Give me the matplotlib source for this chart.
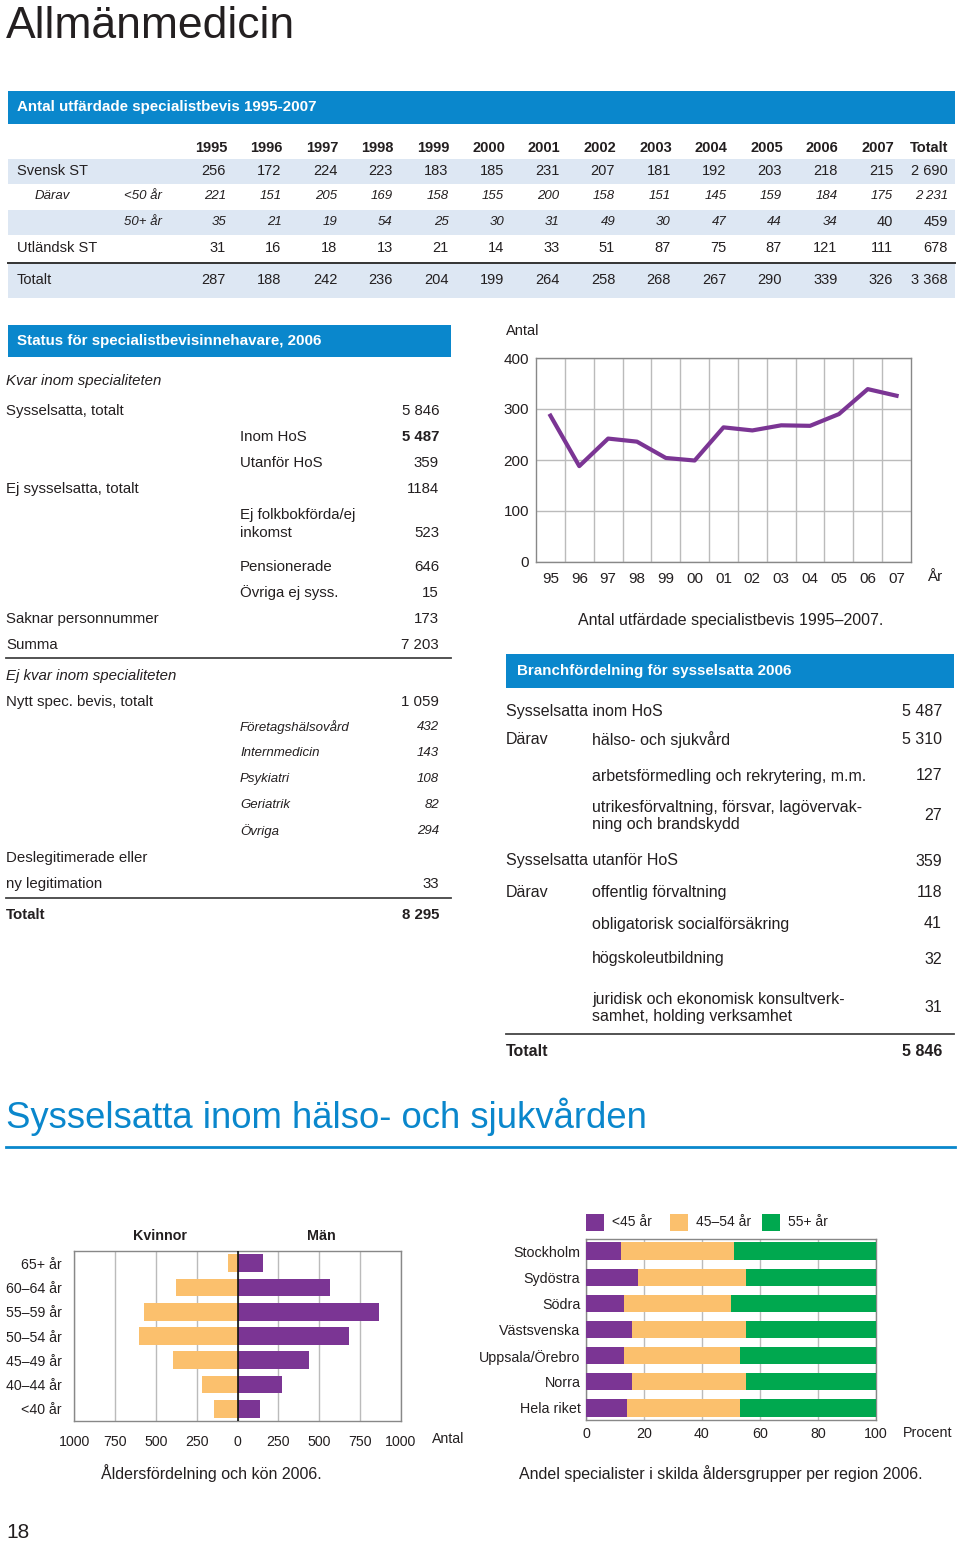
import matplotlib
matplotlib.use("Agg")
import matplotlib.pyplot as plt
from matplotlib.patches import Rectangle
from matplotlib.lines import Line2D
import numpy as np

plt.rcParams['font.family'] = ['Liberation Sans', 'DejaVu Sans']

# ---------------- data ----------------
years = ['1995', '1996', '1997', '1998', '1999', '2000', '2001',
         '2002', '2003', '2004', '2005', '2006', '2007']
years_short = ['95', '96', '97', '98', '99', '00', '01', '02', '03', '04', '05', '06', '07']
svensk_st = [256, 172, 224, 223, 183, 185, 231, 207, 181, 192, 203, 218, 215]
under50 = [221, 151, 205, 169, 158, 155, 200, 158, 151, 145, 159, 184, 175]
over50 = [35, 21, 19, 54, 25, 30, 31, 49, 30, 47, 44, 34, 40]
utlandsk_st = [31, 16, 18, 13, 21, 14, 33, 51, 87, 75, 87, 121, 111]
totalt = [287, 188, 242, 236, 204, 199, 264, 258, 268, 267, 290, 339, 326]

age_groups = ['65+ år', '60–64 år', '55–59 år', '50–54 år', '45–49 år', '40–44 år', '<40 år']
kvinnor = [60, 375, 570, 600, 395, 215, 145]
man = [155, 565, 865, 685, 440, 272, 135]

regions = ['Stockholm', 'Sydöstra', 'Södra', 'Västsvenska', 'Uppsala/Örebro', 'Norra', 'Hela riket']
under45 = [12, 18, 13, 16, 13, 16, 14]
age45_54 = [39, 37, 37, 39, 40, 39, 39]
age55p = [49, 45, 50, 45, 47, 45, 47]

bransch_hos = [('hälso- och sjukvård', '5 310'),
               ('arbetsförmedling och rekrytering, m.m.', '127'),
               ('utrikesförvaltning, försvar, lagövervak-\nning och brandskydd', '27')]
bransch_utanfor = [('offentlig förvaltning', '118'),
                   ('obligatorisk socialförsäkring', '41'),
                   ('högskoleutbildning', '32'),
                   ('juridisk och ekonomisk konsultverk-\nsamhet, holding verksamhet', '31')]

# ---------------- helpers ----------------
W, H = 960, 1544
fig = plt.figure(figsize=(W / 100, H / 100), dpi=100)
TXT = '#231f20'
BLUE = '#0a87cc'
LIGHT = '#dde7f3'
PURPLE = '#7b3594'
ORANGE = '#fbc06d'
GREEN = '#00a84f'


def T(x, y, s, size=10.8, ha='left', va='center', **kw):
    kw.setdefault('color', TXT)
    fig.text(x / W, 1 - y / H, s, fontsize=size, ha=ha, va=va, **kw)


def R(x0, y0, x1, y1, color):
    fig.add_artist(Rectangle((x0 / W, 1 - y1 / H), (x1 - x0) / W, (y1 - y0) / H,
                             transform=fig.transFigure, facecolor=color,
                             edgecolor='none', zorder=0))


def L(x0, x1, y, color='#444444', lw=1.3):
    fig.add_artist(Line2D([x0 / W, x1 / W], [1 - y / H, 1 - y / H],
                          transform=fig.transFigure, color=color, lw=lw))


def AX(l, t, r, b):
    return fig.add_axes([l / W, 1 - b / H, (r - l) / W, (b - t) / H])


def fmt(n):
    return f"{n:,}".replace(',', ' ')


BAND = 10.9
IT = 9.5

# ---------------- title ----------------
T(6, 38, 'Allmänmedicin', size=32, va='baseline')

# ---------------- top table ----------------
R(8, 91, 955, 124, BLUE)
T(17, 107, 'Antal utfärdade specialistbevis 1995-2007', size=BAND,
  color='white', fontweight='bold')
R(8, 159, 955, 184, LIGHT)
R(8, 210, 955, 235, LIGHT)
R(8, 264, 955, 298, LIGHT)
L(8, 955, 263, color='#333333', lw=1.4)

col_r = [226 + 55.6 * i for i in range(13)]
tot_r = 948
for xr, yv in zip(col_r, years):
    T(xr + 1, 148, yv, size=10.5, ha='right', fontweight='bold')
T(tot_r, 148, 'Totalt', size=10.5, ha='right', fontweight='bold')

T(17, 171, 'Svensk ST', size=10.5)
T(35, 196, 'Därav', size=IT, style='italic')
T(124, 196, '<50 år', size=IT, style='italic')
T(124, 222, '50+ år', size=IT, style='italic')
T(17, 248, 'Utländsk ST', size=10.5)
T(17, 280, 'Totalt', size=10.5)

for xr, v in zip(col_r, svensk_st):
    T(xr, 171, str(v), size=10.5, ha='right')
T(tot_r, 171, fmt(sum(svensk_st)), size=10.5, ha='right')
for xr, v in zip(col_r, under50):
    T(xr, 196, str(v), size=IT, ha='right', style='italic')
T(tot_r, 196, fmt(sum(under50)), size=IT, ha='right', style='italic')
for i, (xr, v) in enumerate(zip(col_r, over50)):
    if i == len(over50) - 1:
        T(xr, 222, str(v), size=10.5, ha='right')
    else:
        T(xr, 222, str(v), size=IT, ha='right', style='italic')
T(tot_r, 222, fmt(sum(over50)), size=10.5, ha='right')
for xr, v in zip(col_r, utlandsk_st):
    T(xr, 248, str(v), size=10.5, ha='right')
T(tot_r, 248, fmt(sum(utlandsk_st)), size=10.5, ha='right')
for xr, v in zip(col_r, totalt):
    T(xr, 280, str(v), size=10.5, ha='right')
T(tot_r, 280, fmt(sum(totalt)), size=10.5, ha='right')

# ---------------- status table (left) ----------------
R(8, 325, 451, 357, BLUE)
T(17, 341, 'Status för specialistbevisinnehavare, 2006', size=BAND,
  color='white', fontweight='bold')
VR = 439
T(6, 381, 'Kvar inom specialiteten', style='italic')
T(6, 411, 'Sysselsatta, totalt'); T(VR, 411, '5 846', ha='right')
T(240, 437, 'Inom HoS'); T(VR, 437, '5 487', ha='right', fontweight='bold')
T(240, 463, 'Utanför HoS'); T(VR, 463, '359', ha='right')
T(6, 489, 'Ej sysselsatta, totalt'); T(VR, 489, '1184', ha='right')
T(240, 515, 'Ej folkbokförda/ej'); T(240, 533, 'inkomst'); T(VR, 533, '523', ha='right')
T(240, 567, 'Pensionerade'); T(VR, 567, '646', ha='right')
T(240, 593, 'Övriga ej syss.'); T(VR, 593, '15', ha='right')
T(6, 619, 'Saknar personnummer'); T(VR, 619, '173', ha='right')
T(6, 645, 'Summa'); T(VR, 645, '7 203', ha='right')
L(6, 451, 658)
T(6, 676, 'Ej kvar inom specialiteten', style='italic')
T(6, 702, 'Nytt spec. bevis, totalt'); T(VR, 702, '1 059', ha='right')
for yy, lab, val in [(727, 'Företagshälsovård', '432'), (753, 'Internmedicin', '143'),
                     (779, 'Psykiatri', '108'), (805, 'Geriatrik', '82'),
                     (831, 'Övriga', '294')]:
    T(240, yy, lab, size=9.5, style='italic')
    T(VR, yy, val, size=9.5, style='italic', ha='right')
T(6, 858, 'Deslegitimerade eller')
T(6, 884, 'ny legitimation'); T(VR, 884, '33', ha='right')
L(6, 451, 898)
T(6, 915, 'Totalt', fontweight='bold'); T(VR, 915, '8 295', ha='right', fontweight='bold')

# ---------------- line chart ----------------
ax1 = AX(536, 358, 911, 562)
x = np.arange(len(years_short))
ax1.plot(x, totalt, color=PURPLE, lw=3.0, zorder=3)
ax1.set_xlim(-0.5, len(x) - 0.5)
ax1.set_ylim(0, 400)
ax1.set_yticks([0, 100, 200, 300, 400])
ax1.set_xticks(x)
ax1.set_xticklabels(years_short)
ax1.set_xticks(np.arange(len(x) - 1) + 0.5, minor=True)
ax1.grid(True, which='minor', axis='x', color='#bbbbbb', lw=1)
ax1.grid(True, which='major', axis='y', color='#bbbbbb', lw=1)
ax1.tick_params(which='both', length=0, labelsize=11, colors=TXT)
ax1.tick_params(axis='x', pad=7)
ax1.tick_params(axis='y', pad=5)
for s in ax1.spines.values():
    s.set_color('#888888'); s.set_linewidth(1)
T(506, 331, 'Antal', size=10.5)
T(935, 577, 'År', size=11, ha='center')
T(731, 621, 'Antal utfärdade specialistbevis 1995–2007.', size=11.5, ha='center')

# ---------------- bransch table ----------------
R(506, 654, 954, 688, BLUE)
T(517, 671, 'Branchfördelning för sysselsatta 2006', size=BAND,
  color='white', fontweight='bold')
BR = 942
BS = 11.5
T(506, 711, 'Sysselsatta inom HoS', size=BS); T(BR, 711, '5 487', size=BS, ha='right')
T(506, 740, 'Därav', size=BS)
for yy, (lab, val) in zip([740, 776, 816], bransch_hos):
    T(592, yy, lab, size=BS, linespacing=1.1)
    T(BR, yy, val, size=BS, ha='right')
T(506, 861, 'Sysselsatta utanför HoS', size=BS); T(BR, 861, '359', size=BS, ha='right')
T(506, 892, 'Därav', size=BS)
for yy, (lab, val) in zip([892, 924, 959, 1008], bransch_utanfor):
    T(592, yy, lab, size=BS, linespacing=1.1)
    T(BR, yy, val, size=BS, ha='right')
L(506, 954, 1034)
T(506, 1052, 'Totalt', size=BS, fontweight='bold')
T(BR, 1052, '5 846', size=BS, ha='right', fontweight='bold')

# ---------------- section heading ----------------
T(6, 1117, 'Sysselsatta inom hälso- och sjukvården', size=26.3, color=BLUE)
L(6, 955, 1147, color=BLUE, lw=2)

# ---------------- population pyramid ----------------
ax2 = AX(74, 1251, 401, 1421)
yy = np.arange(len(age_groups))
ax2.barh(yy, [-v for v in kvinnor], height=0.73, color=ORANGE, zorder=3)
ax2.barh(yy, man, height=0.73, color=PURPLE, zorder=3)
ax2.axvline(0, color='#111111', lw=1.2, zorder=4)
ax2.set_xlim(-1000, 1000)
ax2.set_ylim(len(age_groups) - 0.5, -0.5)
ax2.set_yticks(yy)
ax2.set_yticklabels(age_groups)
ticks = [-1000, -750, -500, -250, 0, 250, 500, 750, 1000]
ax2.set_xticks(ticks)
ax2.set_xticklabels([str(abs(t)) for t in ticks])
ax2.grid(True, axis='x', color='#bbbbbb', lw=1, zorder=0)
ax2.tick_params(length=0, labelsize=10.2, colors=TXT)
ax2.tick_params(axis='x', pad=10)
ax2.tick_params(axis='y', pad=9)
for s in ax2.spines.values():
    s.set_color('#888888'); s.set_linewidth(1)
T(160, 1236, 'Kvinnor', size=10.3, ha='center', fontweight='bold')
T(321, 1236, 'Män', size=10.3, ha='center', fontweight='bold')
T(448, 1439, 'Antal', size=10.2, ha='center')
T(211, 1473, 'Åldersfördelning och kön 2006.', size=11.5, ha='center')

# ---------------- stacked region bars ----------------
ax3 = AX(586, 1239, 876, 1420)
ry = np.arange(len(regions))
ax3.barh(ry, under45, height=0.66, color=PURPLE, zorder=3)
ax3.barh(ry, age45_54, left=under45, height=0.66, color=ORANGE, zorder=3)
left2 = [a + b for a, b in zip(under45, age45_54)]
ax3.barh(ry, age55p, left=left2, height=0.66, color=GREEN, zorder=3)
ax3.set_xlim(0, 100)
ax3.set_ylim(len(regions) - 0.54, -0.46)
ax3.set_yticks(ry)
ax3.set_yticklabels(regions)
ax3.set_xticks([0, 20, 40, 60, 80, 100])
ax3.grid(True, axis='x', color='#bbbbbb', lw=1, zorder=0)
ax3.tick_params(length=0, labelsize=10.3, colors=TXT)
ax3.tick_params(axis='x', pad=5)
ax3.tick_params(axis='y', pad=4)
for s in ax3.spines.values():
    s.set_color('#888888'); s.set_linewidth(1)
T(928, 1433, 'Procent', size=10.3, ha='center')
for x0, col, lab in [(586, PURPLE, '<45 år'), (670, ORANGE, '45–54 år'), (762, GREEN, '55+ år')]:
    R(x0, 1214, x0 + 18, 1231, col)
    T(x0 + 26, 1222, lab, size=10)
T(721, 1474, 'Andel specialister i skilda åldersgrupper per region 2006.', size=11.5, ha='center')

# ---------------- page number ----------------
T(6, 1532, '18', size=15)

fig.savefig('out.png', dpi=100)
